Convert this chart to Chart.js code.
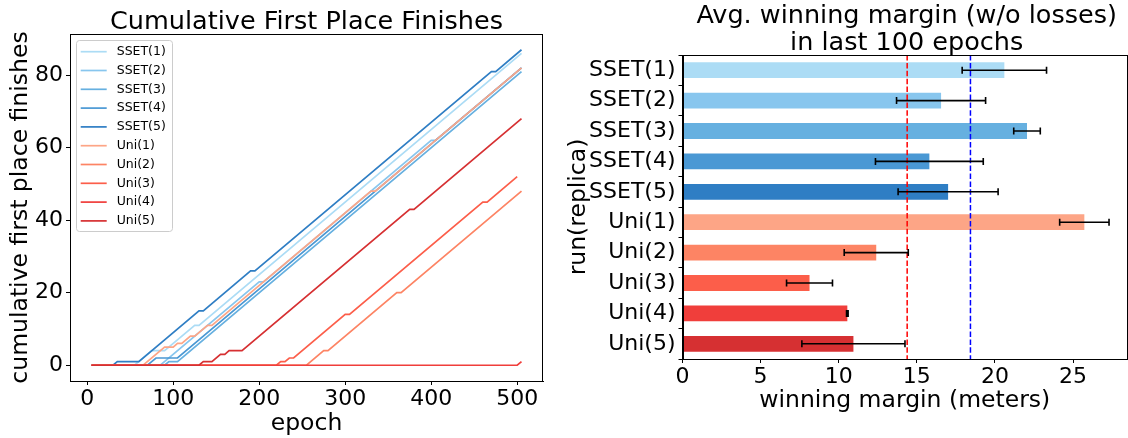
<!DOCTYPE html>
<html lang="en">
  <head>
    <meta charset="UTF-8" />
    <title>Cumulative first place finishes / winning margin</title>
    <script src="https://cdn.jsdelivr.net/npm/chart.js@4.4.1/dist/chart.umd.min.js"></script>
    <style>
      body { margin: 0; background: #fff; }
      #wrap { position: relative; width: 1128px; height: 438px; overflow: hidden; background: #fff; }
      .title {
        position: absolute;
        width: 500px;
        font-family: "DejaVu Sans", sans-serif;
        font-size: 25.5px;
        line-height: 27.2px;
        color: #000;
        text-align: center;
        white-space: nowrap;
      }
      #leftChart { position: absolute; left: 0; top: 0; }
      #rightChart { position: absolute; left: 560px; top: 0; }
    </style>
  </head>
  <body>
    <div id="wrap">
      <canvas id="leftChart" width="560" height="438"></canvas>
      <canvas id="rightChart" width="568" height="438"></canvas>
      <div class="title" style="left: 56.5px; top: 6.9px">Cumulative First Place Finishes</div>
      <div class="title" style="left: 656.7px; top: 1.1px">Avg. winning margin (w/o losses)<br />in last 100 epochs</div>
    </div>

    <script>
      // left panel: cumulative first place finishes, [epoch, count] break points
      var runLabels = ["SSET(1)", "SSET(2)", "SSET(3)", "SSET(4)", "SSET(5)",
                       "Uni(1)", "Uni(2)", "Uni(3)", "Uni(4)", "Uni(5)"];
      var runColors = ["#acdcf5", "#88c6ee", "#66b0e0", "#4a98d4", "#2f7ec4",
                       "#fda586", "#fd8464", "#fc5e4a", "#f03e3b", "#d63032"];

      var sset1 = [[5, 0], [55, 0], [75, 4], [90, 4], [125, 11], [130, 11], [505, 86]];
      var sset2 = [[5, 0], [85, 0], [200, 23], [205, 23], [400, 62], [405, 62], [505, 82]];
      var sset3 = [[5, 0], [90, 0], [95, 1], [105, 1], [505, 81]];
      var sset4 = [[5, 0], [70, 0], [80, 2], [105, 2], [505, 82]];
      var sset5 = [[5, 0], [30, 0], [35, 1], [60, 1], [130, 15], [135, 15], [190, 26], [195, 26],
                   [470, 81], [475, 81], [505, 87]];
      var uni1 = [[5, 0], [65, 0], [90, 5], [100, 5], [105, 6], [110, 6], [120, 8], [125, 8],
                  [140, 11], [145, 11], [330, 48], [335, 48], [505, 82]];
      var uni2 = [[5, 0], [255, 0], [275, 4], [280, 4], [360, 20], [365, 20], [505, 48]];
      var uni3 = [[5, 0], [220, 0], [225, 1], [230, 1], [235, 2], [240, 2], [300, 14], [305, 14],
                  [460, 45], [465, 45], [500, 52]];
      var uni4 = [[5, 0], [500, 0], [505, 1]];
      var uni5 = [[5, 0], [130, 0], [135, 1], [145, 1], [155, 3], [160, 3], [165, 4], [180, 4],
                  [375, 43], [380, 43], [505, 68]];
      var runSeries = [sset1, sset2, sset3, sset4, sset5, uni1, uni2, uni3, uni4, uni5];

      var epochTicks = [0, 100, 200, 300, 400, 500];
      var finishTicks = [0, 20, 40, 60, 80];

      // right panel: average winning margin with error bars
      var marginMeans = [20.6, 16.55, 22.05, 15.8, 17.0, 25.72, 12.4, 8.13, 10.55, 10.94];
      var marginErrors = [2.7, 2.85, 0.85, 3.45, 3.2, 1.58, 2.05, 1.47, 0.05, 3.3];
      var marginTicks = [0, 5, 10, 15, 20, 25];
      var uniRefLine = 14.38;
      var ssetRefLine = 18.43;

      Chart.defaults.font.family = '"DejaVu Sans", sans-serif';
      Chart.defaults.color = "#000";

      function fixedTicks(list) {
        return function (scale) {
          scale.ticks = list.map(function (v) { return { value: v }; });
        };
      }

      var framePlugin = {
        id: "frame",
        afterDraw: function (chart) {
          var a = chart.chartArea, ctx = chart.ctx;
          ctx.save();
          ctx.strokeStyle = "#000";
          ctx.lineWidth = 1;
          ctx.strokeRect(Math.round(a.left) + 0.5, Math.round(a.top) + 0.5,
                         Math.round(a.right - a.left) - 1, Math.round(a.bottom - a.top));
          ctx.restore();
        }
      };

      var insideLegend = {
        id: "insideLegend",
        afterDraw: function (chart) {
          var ctx = chart.ctx, a = chart.chartArea;
          var x0 = a.left + 6, y0 = a.top + 6;
          ctx.save();
          ctx.fillStyle = "rgba(255,255,255,0.8)";
          ctx.strokeStyle = "#cccccc";
          ctx.lineWidth = 1;
          ctx.beginPath();
          ctx.roundRect(x0 + 0.5, y0 + 0.5, 96, 191, 3);
          ctx.fill();
          ctx.stroke();
          ctx.font = '12.5px "DejaVu Sans"';
          ctx.textBaseline = "middle";
          chart.data.datasets.forEach(function (ds, i) {
            var y = y0 + 11.7 + i * 18.8;
            ctx.strokeStyle = ds.borderColor;
            ctx.lineWidth = 1.7;
            ctx.beginPath();
            ctx.moveTo(x0 + 4.7, y);
            ctx.lineTo(x0 + 30.7, y);
            ctx.stroke();
            ctx.fillStyle = "#000";
            ctx.fillText(ds.label, x0 + 40.7, y);
          });
          ctx.restore();
        }
      };

      var lineSets = runLabels.map(function (name, i) {
        return {
          label: name,
          data: runSeries[i].map(function (p) { return { x: p[0], y: p[1] }; }),
          borderColor: runColors[i],
          backgroundColor: runColors[i],
          borderWidth: 1.7,
          pointRadius: 0,
          fill: false,
          tension: 0,
          order: runLabels.length - i
        };
      });

      new Chart(document.getElementById("leftChart"), {
        type: "line",
        data: { datasets: lineSets },
        options: {
          responsive: false,
          animation: false,
          devicePixelRatio: 1,
          layout: { padding: { left: 0, right: 17, top: 34, bottom: 0 } },
          plugins: { legend: { display: false }, tooltip: { enabled: false } },
          scales: {
            x: {
              type: "linear",
              min: -20,
              max: 530,
              afterBuildTicks: fixedTicks(epochTicks),
              afterFit: function (s) { s.height = 57; },
              grid: { drawOnChartArea: false, drawTicks: true, tickLength: 4, color: "#000" },
              border: { display: true, color: "#000" },
              ticks: { font: { size: 22 }, color: "#000", padding: 1, maxRotation: 0 },
              title: { display: true, text: "epoch", font: { size: 23.5 }, padding: { top: 0, bottom: 0 } }
            },
            y: {
              type: "linear",
              min: -4.35,
              max: 91.35,
              afterBuildTicks: fixedTicks(finishTicks),
              afterFit: function (s) { s.width = 70; },
              grid: { drawOnChartArea: false, drawTicks: true, tickLength: 4, color: "#000" },
              border: { display: true, color: "#000" },
              ticks: { font: { size: 22 }, color: "#000", padding: 3 },
              title: { display: true, text: "cumulative first place finishes", font: { size: 23.5 }, padding: { top: 7, bottom: 0 } }
            }
          }
        },
        plugins: [framePlugin, insideLegend]
      });

      var marginExtras = {
        id: "marginExtras",
        afterDatasetsDraw: function (chart) {
          var ctx = chart.ctx, a = chart.chartArea;
          var xs = chart.scales.x, ys = chart.scales.y;
          ctx.save();
          // reference lines
          [[uniRefLine, "#ff0000"], [ssetRefLine, "#0000ff"]].forEach(function (r) {
            var px = xs.getPixelForValue(r[0]);
            ctx.strokeStyle = r[1];
            ctx.lineWidth = 1.5;
            ctx.setLineDash([5.5, 2.4]);
            ctx.beginPath();
            ctx.moveTo(px, a.top);
            ctx.lineTo(px, a.bottom);
            ctx.stroke();
          });
          ctx.setLineDash([]);
          // error bars
          ctx.strokeStyle = "#000";
          ctx.lineWidth = 1.6;
          marginMeans.forEach(function (m, i) {
            var py = ys.getPixelForValue(i);
            var xl = xs.getPixelForValue(m - marginErrors[i]);
            var xr = xs.getPixelForValue(m + marginErrors[i]);
            ctx.beginPath();
            ctx.moveTo(xl, py); ctx.lineTo(xr, py);
            ctx.moveTo(xl, py - 3.5); ctx.lineTo(xl, py + 3.5);
            ctx.moveTo(xr, py - 3.5); ctx.lineTo(xr, py + 3.5);
            ctx.stroke();
          });
          ctx.restore();
        }
      };

      new Chart(document.getElementById("rightChart"), {
        type: "bar",
        data: {
          labels: runLabels,
          datasets: [{
            label: "winning margin",
            data: marginMeans,
            backgroundColor: runColors,
            borderWidth: 0,
            barPercentage: 0.52,
            categoryPercentage: 1
          }]
        },
        options: {
          indexAxis: "y",
          responsive: false,
          animation: false,
          devicePixelRatio: 1,
          layout: { padding: { left: 0, right: 1, top: 55, bottom: 0 } },
          plugins: { legend: { display: false }, tooltip: { enabled: false } },
          scales: {
            x: {
              type: "linear",
              min: 0,
              max: 28.45,
              afterBuildTicks: fixedTicks(marginTicks),
              afterFit: function (s) { s.height = 79; },
              grid: { drawOnChartArea: false, drawTicks: true, tickLength: 4, color: "#000" },
              border: { display: true, color: "#000" },
              ticks: { font: { size: 22 }, color: "#000", padding: 1, maxRotation: 0 },
              title: { display: true, text: "winning margin (meters)", font: { size: 23.5 }, padding: { top: 0, bottom: 23 } }
            },
            y: {
              type: "category",
              afterFit: function (s) { s.width = 122.5; },
              grid: { drawOnChartArea: false, drawTicks: true, tickLength: 4, color: "#000" },
              border: { display: true, color: "#000" },
              ticks: { font: { size: 22 }, color: "#000", padding: 3 },
              title: { display: true, text: "run(replica)", font: { size: 23.5 }, padding: { top: 5, bottom: 0 } }
            }
          }
        },
        plugins: [framePlugin, marginExtras]
      });
    </script>
  </body>
</html>
